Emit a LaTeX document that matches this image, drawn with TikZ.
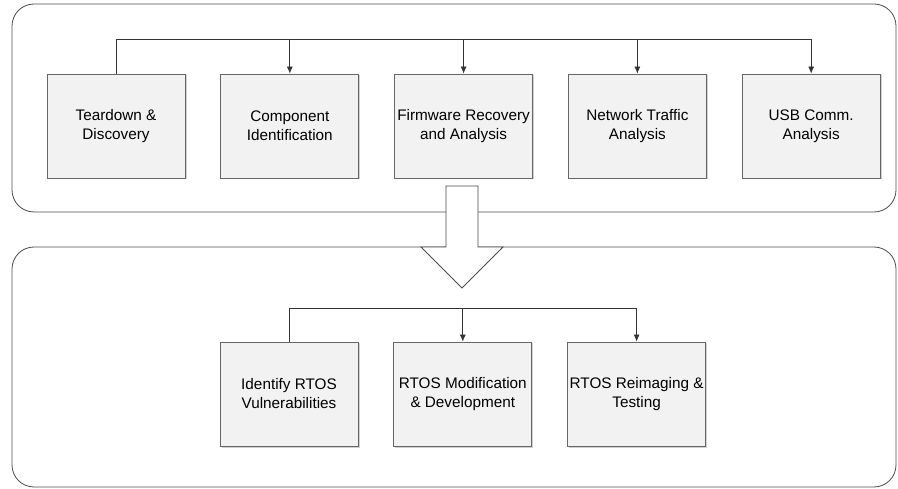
\documentclass[tikz,border=0pt]{standalone}
\usepackage{fontspec}
\setmainfont{Liberation Sans}
\usetikzlibrary{arrows.meta,positioning,shadows}

\begin{document}
\begin{tikzpicture}[>={Latex[length=7pt,width=6pt]},x=1pt,y=-1pt,line width=0.8pt,node distance = 35pt]
\tikzstyle{task} = [draw=black!60,fill=black!5,minimum width=138pt,minimum height=104pt,
  inner xsep=0pt,align=center,font=\fontsize{15.3}{19}\selectfont,
  drop shadow={shadow xshift=1.5pt,shadow yshift=-1.5pt,fill=black!30,opacity=0.6}]
\tikzstyle{group} = [draw=black!70,rounded corners=22pt]

\useasboundingbox (0,0) rectangle (898,489);

% containers
\draw[group] (12,4) rectangle (896,212);
\draw[group] (12,247) rectangle (896,487);

% first stage
\node[task] (teardown) at (116,126) {Teardown \&\\Discovery};
\node[task] (component) [right = of teardown] {Component\\Identification};
\node[task] (firmware) [right = of component] {Firmware Recovery\\and Analysis};
\node[task] (network) [right = of firmware] {Network Traffic\\Analysis};
\node[task] (usb) [right = of network] {USB Comm.\\Analysis};

\coordinate (topbus) at (0,39);
\draw[black!80] (teardown.north) -- (teardown.north |- topbus) -- (usb.north |- topbus);
\foreach \n in {component,firmware,network,usb}
  \draw[->,black!80] (\n.north |- topbus) -- (\n.north);

% hollow arrow between stages
\draw[black!70,fill=white] (446,186) -- (478,186) -- (478,247) -- (503,247)
  -- (462,288) -- (421,247) -- (446,247) -- cycle;

% second stage
\node[task] (vuln) at (289,394) {Identify RTOS\\Vulnerabilities};
\node[task] (modify) [right = of vuln] {RTOS Modification\\\& Development};
\node[task] (reimage) [right = of modify] {RTOS Reimaging \&\\Testing};

\coordinate (lowbus) at (0,308);
\draw[black!80] (vuln.north) -- (vuln.north |- lowbus) -- (reimage.north |- lowbus);
\foreach \n in {modify,reimage}
  \draw[->,black!80] (\n.north |- lowbus) -- (\n.north);
\end{tikzpicture}
\end{document}
